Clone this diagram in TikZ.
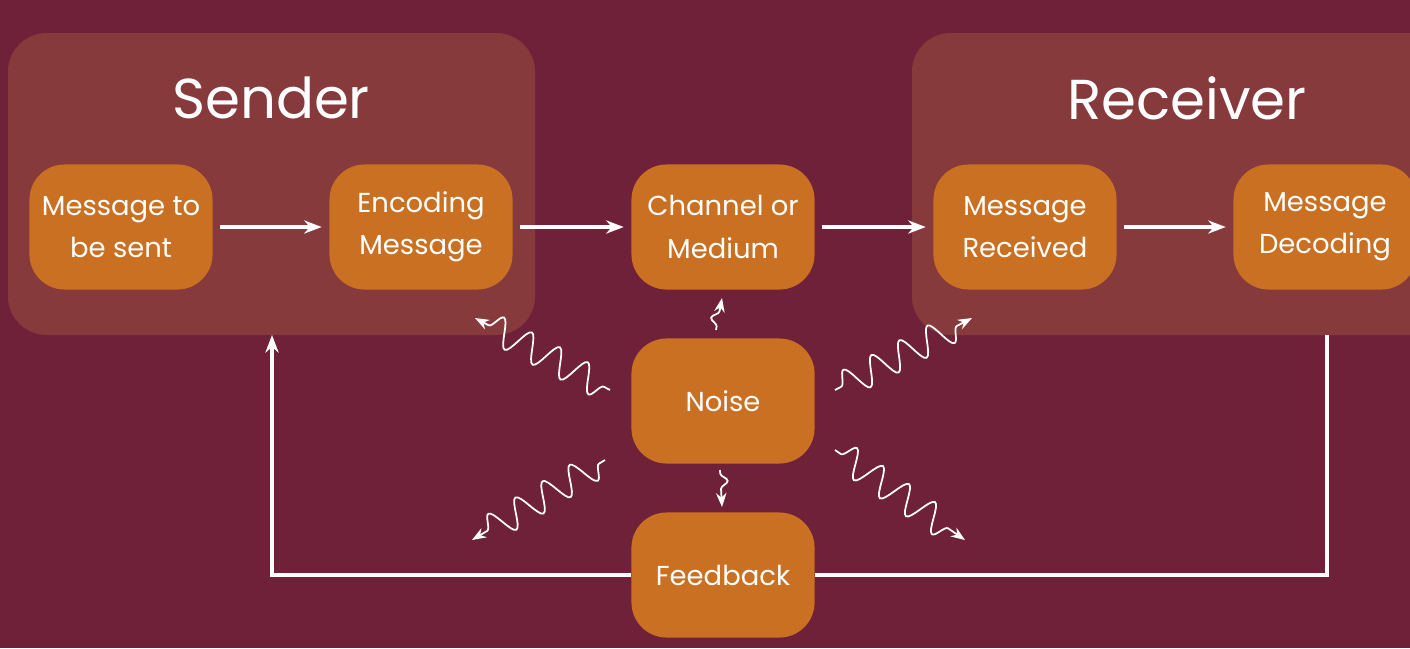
\documentclass[tikz,border=0pt]{standalone}
\usepackage{fontspec}
\setmainfont{Poppins}
\usetikzlibrary{arrows.meta}
\usetikzlibrary{decorations.pathmorphing}
\definecolor{bg-wine}{RGB}{112, 33, 58}
\definecolor{panel-brown}{RGB}{135, 58, 60}
\definecolor{box-orange}{RGB}{201, 112, 34}
\tikzset{
  stage/.style={fill=box-orange, rounded corners=10pt, minimum width=1.83cm, minimum height=1.25cm, text=white, align=center, font=\fontsize{7.8}{12}\selectfont, inner sep=0pt},
  panel/.style={fill=panel-brown, rounded corners=11pt},
  flow/.style={draw=white, line width=1.2pt, -{Stealth[length=5pt]}},
  noisy/.style={draw=white, line width=0.5pt, -{Stealth[length=4pt]}, decorate, decoration={snake, amplitude=4pt, segment length=9pt, pre length=2pt, post length=4pt}},
  twitch/.style={decoration={snake, amplitude=2pt, segment length=7pt, pre length=1pt, post length=3pt}}
}
\begin{document}
\begin{tikzpicture}[x=0.01cm, y=-0.01cm]
\fill[bg-wine] (0,0) rectangle (1410,648);
\useasboundingbox (0,0) rectangle (1410,648);
\fill[panel] (8,33) rectangle (535,335);
\fill[panel] (912,33) rectangle (1450,335);
\node[text=white, font=\fontsize{16}{20}\selectfont] (sender) at (271,98) {Sender};
\node[text=white, font=\fontsize{16}{20}\selectfont] (receiver) at (1187,98) {Receiver};

\node[stage] (msg) at (121,227) {Message to\\be sent};
\node[stage] (enc) at (421,227) {Encoding\\Message};
\node[stage] (chan) at (723,227) {Channel or\\Medium};
\node[stage] (recv) at (1025,227) {Message\\Received};
\node[stage] (dec) at (1325,227) {Message\\Decoding};
\node[stage] (noise) at (723,401) {Noise};
\node[stage] (fb) at (723,575) {Feedback};

\draw[flow] ([xshift=2pt]msg.east) -- ([xshift=-2pt]enc.west);
\draw[flow] ([xshift=2pt]enc.east) -- ([xshift=-2pt]chan.west);
\draw[flow] ([xshift=2pt]chan.east) -- ([xshift=-2pt]recv.west);
\draw[flow] ([xshift=2pt]recv.east) -- ([xshift=-2pt]dec.west);

\coordinate (sendfoot) at (272,335);
\coordinate (recvfoot) at (1327,335);
\draw[flow] (fb.west) -| (sendfoot);
\draw[draw=white, line width=1.2pt] (fb.east) -| (recvfoot);

\coordinate (n1) at (475,318);
\coordinate (n2) at (722,298);
\coordinate (n3) at (972,318);
\coordinate (n4) at (472,540);
\coordinate (n5) at (722,507);
\coordinate (n6) at (965,540);
\draw[noisy] (610,390) -- (n1);
\draw[noisy, twitch] (716,330) -- (n2);
\draw[noisy] (835,390) -- (n3);
\draw[noisy] (605,460) -- (n4);
\draw[noisy, twitch] (720,470) -- (n5);
\draw[noisy] (835,450) -- (n6);
\end{tikzpicture}
\end{document}
